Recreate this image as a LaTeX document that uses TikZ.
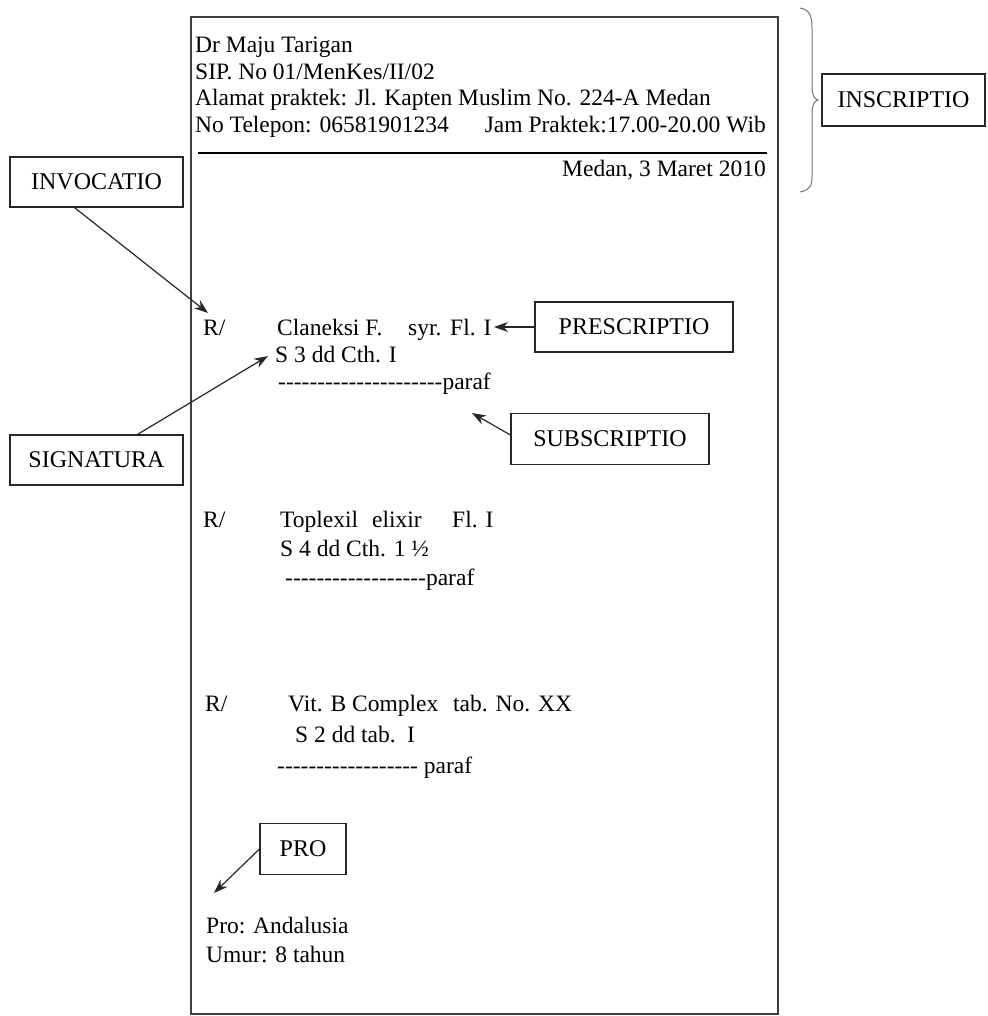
\documentclass[tikz,border=0pt]{standalone}
\usepackage{fontspec}
\setmainfont{Liberation Serif}[Ligatures=TeXOff]
\usetikzlibrary{arrows.meta}
\tikzset{
  txt/.style={anchor=base west,inner sep=0pt,font=\fontsize{23.5}{27}\selectfont},
  txtr/.style={anchor=base east,inner sep=0pt,font=\fontsize{23.5}{27}\selectfont},
  lbl/.style={draw=black!85,line width=1.1pt,inner sep=0pt,font=\fontsize{24}{28}\selectfont},
  arr/.style={-{Stealth[length=14pt,width=10pt]},line width=1.2pt,draw=black!85},
}
\begin{document}
\begin{tikzpicture}[x=1pt,y=-1pt]
\useasboundingbox (0,0) rectangle (987,1016);
% page frame
\draw[black!75,line width=1.5pt] (191,17) rectangle (778,1014);
% header
\node[txt] (h1) at (195,53) {Dr Maju Tarigan};
\node[txt] (h2) at (195,80) {SIP. No 01/MenKes/II/02};
\node[txt] (h3) at (195,106) {Alamat praktek: Jl. Kapten Muslim No. 224-A Medan};
\node[txt] (h4) at (195,133) {No Telepon: 06581901234};
\node[txtr] (h5) at (766,133) {Jam Praktek:17.00-20.00 Wib};
\draw[line width=2.2pt] (198,153) -- (767,153);
\node[txtr] (date) at (766,177) {Medan, 3 Maret 2010};
% brace
\draw[black!55,line width=1pt] (800,8) .. controls (810,10) and (812,16) .. (812,28) -- (812,86) .. controls (812,95) and (814,99) .. (818,100) .. controls (814,101) and (812,105) .. (812,114) -- (812,176) .. controls (812,186) and (810,190) .. (800,192);
\node[lbl,minimum width=163,minimum height=52] (inscr) at (903.5,100) {INSCRIPTIO};
% labels
\node[lbl,minimum width=173,minimum height=50] (invoc) at (96.5,182) {INVOCATIO};
\node[lbl,minimum width=173,minimum height=50] (signa) at (96.5,460) {SIGNATURA};
\node[lbl,minimum width=198,minimum height=50] (presc) at (634,327) {PRESCRIPTIO};
\node[lbl,minimum width=198,minimum height=51] (subsc) at (610,439) {SUBSCRIPTIO};
\node[lbl,minimum width=86,minimum height=51] (pro) at (303,849) {PRO};
% block 1
\node[txt] (r1) at (203,335) {R/};
\node[txt] (c1) at (277,335) {Claneksi F.};
\node[txt] (c1b) at (408,335) {syr.};
\node[txt] (c1c) at (450,335) {Fl. I};
\node[txt] (s1) at (275,362) {S 3 dd Cth. I};
\node[txt] (p1) at (278,389) {---------------------paraf};
% block 2
\node[txt] (r2) at (203,527) {R/};
\node[txt] (c2) at (280,527) {Toplexil};
\node[txt] (c2b) at (372,527) {elixir};
\node[txt] (c2c) at (452,527) {Fl. I};
\node[txt] (s2) at (280,556) {S 4 dd Cth. 1 ½};
\node[txt] (p2) at (285,585) {------------------paraf};
% block 3
\node[txt] (r3) at (205,711) {R/};
\node[txt] (c3) at (288,711) {Vit. B Complex};
\node[txt] (c3b) at (453,711) {tab. No. XX};
\node[txt] (s3) at (295,742) {S 2 dd tab.};
\node[txt] (s3b) at (407,742) {I};
\node[txt] (p3) at (277,773) {------------------ paraf};
% patient
\node[txt] (pt1) at (206,933) {Pro: Andalusia};
\node[txt] (pt2) at (206,962) {Umur: 8 tahun};
% arrows
\coordinate (tinv) at (208,313);
\coordinate (tsig) at (268,356);
\coordinate (tpre) at (494,327);
\coordinate (tsub) at (472,413);
\coordinate (tpro) at (214,893);
\draw[arr] ([xshift=65pt]invoc.south west) -- (tinv);
\draw[arr] ([xshift=128pt]signa.north west) -- (tsig);
\draw[arr] (presc.west) -- (tpre);
\draw[arr] ([yshift=4pt]subsc.west) -- (tsub);
\draw[arr] (pro.west) -- (tpro);
\end{tikzpicture}
\end{document}
